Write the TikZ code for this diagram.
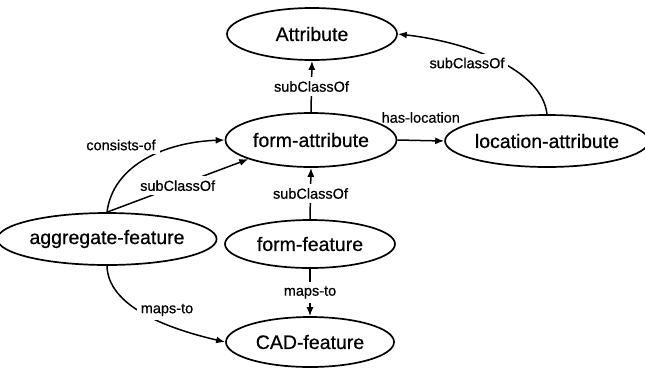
\documentclass[tikz,border=0pt]{standalone}
\usepackage{fontspec}
\setmainfont{Liberation Sans}[FakeBold=0.6]
\usetikzlibrary{arrows.meta,shapes.geometric}
\begin{document}
\begin{tikzpicture}[x=1pt,y=-1pt,
  cls/.style={ellipse, draw, line width=1.7pt, inner sep=0pt, font=\fontsize{19.5}{22}\selectfont},
  rel/.style={line width=1.5pt, -{Latex[length=9pt,width=7pt]}},
  lbl/.style={fill=white, inner sep=4pt, font=\fontsize{14.5}{16}\selectfont}]
\useasboundingbox (0,0) rectangle (645,368);
\node[cls, minimum width=170pt, minimum height=52pt] (at) at (312,34) {Attribute};
\node[cls, minimum width=171pt, minimum height=54pt] (fa) at (311,140) {form-attribute};
\node[cls, minimum width=190pt, minimum height=52pt] (la) at (547,141) {location-attribute};
\node[cls, minimum width=191pt, minimum height=52pt] (ag) at (107,239) {aggregate-feature};
\node[cls, minimum width=170pt, minimum height=48pt] (ff) at (310,244) {form-feature};
\node[cls, minimum width=168pt, minimum height=50pt] (cad) at (310,342) {CAD-feature};

\draw[rel] (fa.north) -- node[lbl]{subClassOf} (at.south);
\draw[rel] (ff.north) -- node[lbl]{subClassOf} (fa.south);
\draw[rel] (ff.south) -- node[lbl]{maps-to} (cad.north);
\draw[rel] (fa.east) -- node[lbl, fill=none, yshift=23pt]{has-location} (la.west);

\draw[rel] (la.north) .. controls +(-5,-45) and +(70,8) .. (at.east);
\node[lbl] (l1) at (467,63) {subClassOf};

\draw[rel] (ag.north) .. controls +(6,-48) and +(-58,2) .. (fa.west);
\node[lbl] (l2) at (121,145) {consists-of};

\draw[rel] (ag.north) -- node[lbl]{subClassOf} (fa.197);

\draw[rel] (ag.south) .. controls +(1,40) and +(-60,-14) .. (cad.west);
\node[lbl] (l3) at (167,310) {maps-to};
\end{tikzpicture}
\end{document}
